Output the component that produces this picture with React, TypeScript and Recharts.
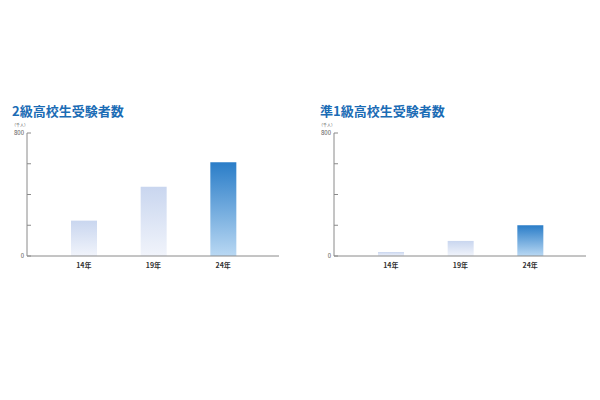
import React from "react";
import { BarChart, Bar, XAxis, YAxis, Cell } from "recharts";

const years = ["14年", "19年", "24年"];
const grade2Values = [230, 450, 610];
const preGrade1Values = [26, 98, 200];
const yTicks = [0, 200, 400, 600, 800];
const labeledTicks = [0, 800];

const FONT = "'Noto Sans CJK JP', 'Noto Sans', sans-serif";

const YTick = (props: any) => {
  const { x, y, payload } = props;
  const show = labeledTicks.includes(payload.value);
  return (
    <g>
      <line x1={x} x2={x + 4} y1={y} y2={y} stroke="#8a8a8a" strokeWidth={1} />
      {show && (
        <text x={x - 3} y={y} dy={2} textAnchor="end" fontSize={6} fill="#555" fontFamily={FONT}>
          {payload.value}
        </text>
      )}
    </g>
  );
};

function Panel({ id, title, values, left, axisWidth, rightMargin }: any) {
  const data = years.map((year, i) => ({ year, value: values[i] }));
  return (
    <div style={{ position: "absolute", left, top: 0, width: 300, height: 300 }}>
      <div
        style={{
          position: "absolute",
          left: id === "g2" ? 12 : 20,
          top: 101,
          fontFamily: FONT,
          fontWeight: 700,
          fontSize: 13,
          color: "#1b6cb5",
          whiteSpace: "nowrap",
        }}
      >
        {title}
      </div>
      <div
        style={{
          position: "absolute",
          left: axisWidth - 15,
          top: 122,
          fontFamily: FONT,
          fontSize: 4,
          color: "#555",
          whiteSpace: "nowrap",
        }}
      >
        （千人）
      </div>
      <div style={{ position: "absolute", left: 0, top: 120 }}>
        <BarChart
          width={300}
          height={160}
          data={data}
          margin={{ top: 13, right: rightMargin, bottom: 0, left: 0 }}
        >
          <defs>
            <linearGradient id={`${id}-dark`} x1="0" y1="0" x2="0" y2="1">
              <stop offset="0%" stopColor="#2a7dc8" />
              <stop offset="100%" stopColor="#b9d8f3" />
            </linearGradient>
            <linearGradient id={`${id}-light`} x1="0" y1="0" x2="0" y2="1">
              <stop offset="0%" stopColor="#c9d6ef" />
              <stop offset="100%" stopColor="#f1f4fb" />
            </linearGradient>
          </defs>
          <XAxis
            dataKey="year"
            height={24}
            padding={{ left: 22, right: 21 }}
            axisLine={{ stroke: "#8a8a8a", strokeWidth: 1 }}
            tickLine={false}
            tick={{ fontSize: 7, fill: "#333", fontWeight: 700, fontFamily: FONT }}
            tickMargin={1}
            interval={0}
          />
          <YAxis
            width={axisWidth}
            domain={[0, 800]}
            ticks={yTicks}
            interval={0}
            axisLine={{ stroke: "#8a8a8a", strokeWidth: 1 }}
            tickLine={false}
            tickSize={0}
            tickMargin={0}
            tick={<YTick />}
          />
          <Bar dataKey="value" barSize={26} isAnimationActive={false}>
            {data.map((d, i) => (
              <Cell key={d.year} fill={i === data.length - 1 ? `url(#${id}-dark)` : `url(#${id}-light)`} />
            ))}
          </Bar>
        </BarChart>
      </div>
    </div>
  );
}

export default function App() {
  return (
    <div style={{ position: "relative", margin: -8, width: 600, height: 400, background: "#fff", overflow: "hidden" }}>
      <Panel id="g2" title="2級高校生受験者数" values={grade2Values} left={0} axisWidth={27} rightMargin={21} />
      <Panel id="p1" title="準1級高校生受験者数" values={preGrade1Values} left={300} axisWidth={34} rightMargin={14} />
    </div>
  );
}
